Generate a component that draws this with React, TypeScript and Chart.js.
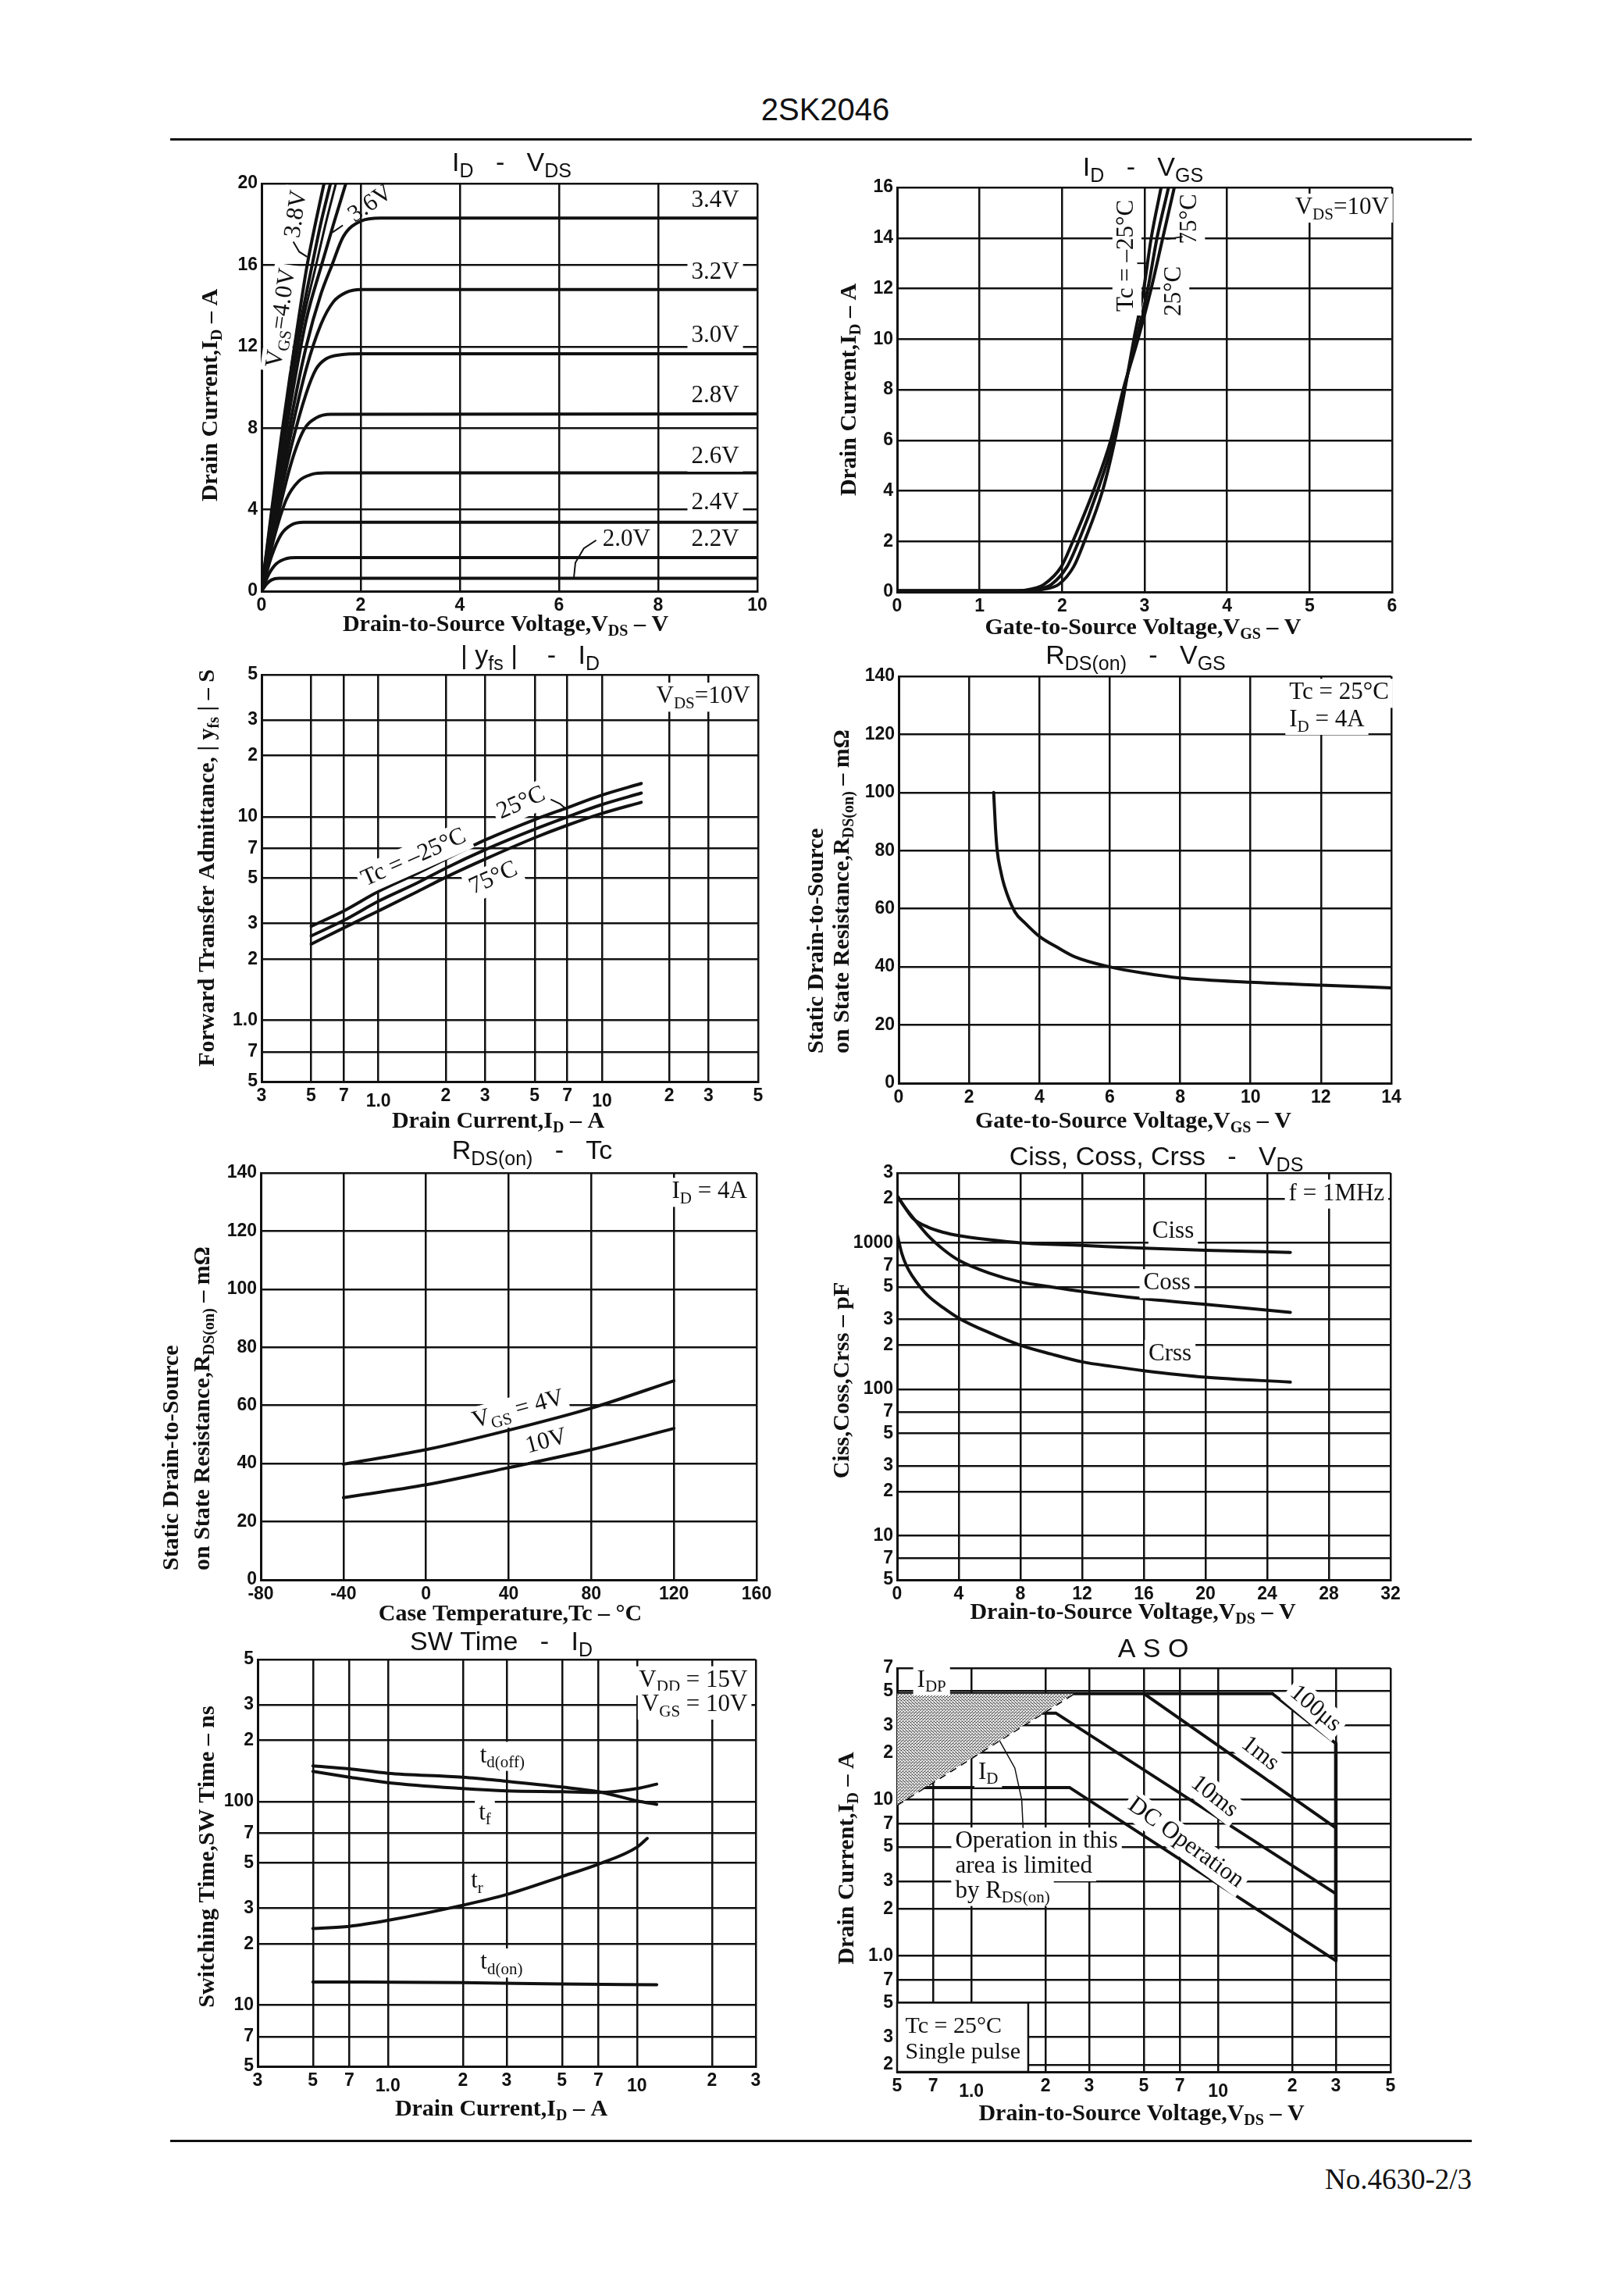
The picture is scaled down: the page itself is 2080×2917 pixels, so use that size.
import React, { useEffect, useRef } from 'react';
import { Chart, registerables } from 'chart.js';

Chart.register(...registerables);

type Pt = [number, number];

/* ================= 1. I_D – V_DS  (parameter V_GS) ================= */
const idVds_2_0V: Pt[] = [[0, 0], [0.1, 0.35], [0.2, 0.55], [0.35, 0.63], [10, 0.63]];
const idVds_2_2V: Pt[] = [[0, 0], [0.15, 0.85], [0.3, 1.35], [0.5, 1.6], [0.7, 1.65], [10, 1.65]];
const idVds_2_4V: Pt[] = [[0, 0], [0.2, 1.7], [0.4, 2.8], [0.6, 3.25], [0.85, 3.38], [10, 3.38]];
const idVds_2_6V: Pt[] = [[0, 0], [0.25, 2.6], [0.5, 4.5], [0.75, 5.4], [1.0, 5.72], [1.3, 5.8], [10, 5.8]];
const idVds_2_8V: Pt[] = [[0, 0], [0.3, 3.4], [0.6, 6.3], [0.85, 7.9], [1.1, 8.5], [1.4, 8.68], [10, 8.7]];
const idVds_3_0V: Pt[] = [[0, 0], [0.3, 3.8], [0.6, 7.1], [0.9, 9.7], [1.1, 10.9], [1.3, 11.4], [1.6, 11.6], [2.0, 11.65], [10, 11.65]];
const idVds_3_2V: Pt[] = [[0, 0], [0.3, 4.1], [0.6, 7.8], [0.9, 10.9], [1.2, 13.1], [1.45, 14.2], [1.7, 14.65], [2.0, 14.8], [10, 14.8]];
const idVds_3_4V: Pt[] = [[0, 0], [0.3, 4.4], [0.6, 8.5], [0.9, 12.0], [1.2, 14.6], [1.42, 16.0], [1.65, 17.4], [2.0, 18.15], [2.4, 18.3], [10, 18.3]];
const idVds_3_6V: Pt[] = [[0, 0], [0.2, 3.3], [0.4, 6.5], [0.6, 9.4], [0.9, 13.3], [1.21, 16], [1.45, 18.0], [1.7, 20]];
const idVds_3_7V: Pt[] = [[0, 0], [0.2, 3.5], [0.4, 6.9], [0.6, 10.0], [0.85, 13.4], [1.1, 16], [1.3, 18.1], [1.5, 20]];
const idVds_3_8V: Pt[] = [[0, 0], [0.2, 3.7], [0.4, 7.2], [0.6, 10.4], [0.8, 13.3], [1.02, 16], [1.2, 18.1], [1.39, 20]];
const idVds_4_0V: Pt[] = [[0, 0], [0.2, 3.9], [0.4, 7.6], [0.6, 11.0], [0.8, 14.2], [0.92, 16], [1.1, 18.2], [1.26, 20]];

/* ================= 2. I_D – V_GS  (parameter Tc) ================= */
const idVgs_m25C: Pt[] = [[0, 0.05], [1.55, 0.05], [1.8, 0.12], [1.96, 0.3], [2.14, 1], [2.27, 2], [2.49, 4], [2.64, 6], [2.76, 8], [2.87, 10], [2.99, 12], [3.08, 14], [3.2, 16]];
const idVgs_25C: Pt[] = [[0, 0.05], [1.5, 0.05], [1.72, 0.12], [1.87, 0.3], [2.06, 1], [2.2, 2], [2.43, 4], [2.62, 6], [2.75, 8], [2.9, 10], [3.04, 12], [3.15, 14], [3.29, 16]];
const idVgs_75C: Pt[] = [[0, 0.05], [1.45, 0.05], [1.63, 0.12], [1.78, 0.3], [1.99, 1], [2.13, 2], [2.38, 4], [2.59, 6], [2.74, 8], [2.92, 10], [3.08, 12], [3.22, 14], [3.36, 16]];

/* ================= 3. |yfs| – I_D ================= */
const yfs_m25C: Pt[] = [[0.5, 2.9], [0.7, 3.45], [1, 4.3], [1.5, 5.3], [2, 6.2], [3, 7.7], [5, 9.7], [7, 11.1], [10, 12.8], [15, 14.6]];
const yfs_25C: Pt[] = [[0.5, 2.6], [0.7, 3.1], [1, 3.85], [1.5, 4.75], [2, 5.6], [3, 6.9], [5, 8.7], [7, 10.0], [10, 11.5], [15, 13.1]];
const yfs_75C: Pt[] = [[0.5, 2.37], [0.7, 2.85], [1, 3.45], [1.5, 4.3], [2, 5.05], [3, 6.2], [5, 7.9], [7, 9.1], [10, 10.4], [15, 11.8]];
const logTicks_03_50 = [0.3, 0.5, 0.7, 1, 2, 3, 5, 7, 10, 20, 30, 50];
const logLabels_03_50 = ['3', '5', '7', '1.0', '2', '3', '5', '7', '10', '2', '3', '5'];
const logTicks_05_50 = [0.5, 0.7, 1, 2, 3, 5, 7, 10, 20, 30, 50];
const logLabels_05_50 = ['5', '7', '1.0', '2', '3', '5', '7', '10', '2', '3', '5'];

/* ================= 4. R_DS(on) – V_GS ================= */
const rdsVgs: Pt[] = [[2.7, 100], [2.75, 88], [2.8, 80], [2.9, 73], [3.0, 68], [3.3, 59], [3.6, 55], [4, 50.5], [4.5, 46.8], [5, 43.5], [6, 40], [7, 37.8], [8, 36.2], [10, 34.7], [12, 33.7], [14, 32.8]];

/* ================= 5. R_DS(on) – Tc ================= */
const rdsTc_4V: Pt[] = [[-40, 39.8], [0, 44.8], [40, 51.5], [80, 59.1], [120, 68.5]];
const rdsTc_10V: Pt[] = [[-40, 28.3], [0, 32.7], [40, 38.6], [80, 44.8], [120, 52.1]];

/* ================= 6. Ciss, Coss, Crss – V_DS ================= */
const ciss: Pt[] = [[0, 2100], [0.5, 1750], [1, 1480], [2, 1280], [3, 1180], [4, 1120], [6, 1050], [8, 1000], [12, 960], [16, 920], [20, 890], [25.5, 860]];
const coss: Pt[] = [[0, 2100], [0.5, 1750], [1, 1500], [2, 1120], [3, 900], [4, 760], [6, 620], [8, 540], [10, 500], [12, 466], [16, 415], [20, 380], [25.5, 335]];
const crss: Pt[] = [[0, 1150], [0.3, 850], [0.6, 700], [1, 590], [1.5, 500], [2, 436], [3, 360], [4, 306], [6, 243], [8, 200], [10, 174], [12, 154], [14, 143], [16, 134], [20, 121], [25.5, 112]];
const capTicks = [5, 7, 10, 20, 30, 50, 70, 100, 200, 300, 500, 700, 1000, 2000, 3000];
const capLabels = ['5', '7', '10', '2', '3', '5', '7', '100', '2', '3', '5', '7', '1000', '2', '3'];

/* ================= 7. SW Time – I_D ================= */
const swTdOff: Pt[] = [[0.5, 150], [0.7, 145], [1, 138], [2, 132], [3, 126], [5, 118], [7, 112], [10, 101], [12, 97]];
const swTf: Pt[] = [[0.5, 141], [0.7, 132], [1, 124], [2, 116], [3, 113], [5, 112], [7, 111], [10, 116], [12, 122]];
const swTr: Pt[] = [[0.5, 23.8], [0.7, 24.4], [1, 26.1], [2, 31], [3, 35], [5, 42.9], [7, 49.3], [10, 59.7], [11, 66]];
const swTdOn: Pt[] = [[0.5, 13.0], [2, 12.9], [5, 12.7], [12, 12.6]];
const swXTicks = [0.3, 0.5, 0.7, 1, 2, 3, 5, 7, 10, 20, 30];
const swXLabels = ['3', '5', '7', '1.0', '2', '3', '5', '7', '10', '2', '3'];
const swYTicks = [5, 7, 10, 20, 30, 50, 70, 100, 200, 300, 500];
const swYLabels = ['5', '7', '10', '2', '3', '5', '7', '100', '2', '3', '5'];

/* ================= 8. ASO ================= */
const asoIdp: Pt[] = [[0.5, 48], [16.6, 48]];
const aso100us: Pt[] = [[16.6, 48], [30, 23]];
const aso1ms: Pt[] = [[5, 48], [30, 6.6]];
const aso10ms: Pt[] = [[0.5, 36], [2.2, 36], [30, 2.5]];
const asoDC: Pt[] = [[0.5, 12], [2.5, 12], [30, 0.93]];
const asoVdss: Pt[] = [[30, 23], [30, 0.93]];
const asoRdsLimit: Pt[] = [[0.5, 9.3], [2.6, 48]];
const asoRdsRegion: Pt[] = [[0.5, 9.3], [2.6, 48], [0.5, 48], [0.5, 9.3]];
const asoYTicks = [0.2, 0.3, 0.5, 0.7, 1, 2, 3, 5, 7, 10, 20, 30, 50, 70];
const asoYLabels = ['2', '3', '5', '7', '1.0', '2', '3', '5', '7', '10', '2', '3', '5', '7'];

/* ================= styling ================= */
const INK = '#111';
const SERIF = "'Liberation Serif', 'DejaVu Serif', serif";
const SANS = "'Liberation Sans', 'DejaVu Sans', sans-serif";
const TICKF = "'Liberation Sans Narrow', 'Liberation Sans', sans-serif";
const GRID_W = 2.5;
const CURVE_W = 4;
const M = { l: 150, t: 70, r: 50, b: 90 };
const YW = 72;
const XH = 56;
const ANN_SIZE = 31;
const AXIS_TITLE_SIZE = 30;
const TITLE_SIZE = 34;

type Ann = {
  t?: string;
  d?: Pt;
  a?: [number, number, number, number];
  size?: number;
  fam?: 'serif' | 'title';
  bold?: boolean;
  align?: 'left' | 'center' | 'right';
  rot?: number;
  bg?: boolean;
  line?: Pt[];
  lw?: number;
  rect?: [number, number, number, number];
};

type AxisSpec = {
  type: 'linear' | 'logarithmic';
  min: number;
  max: number;
  step?: number;
  ticks?: number[];
  labels?: string[];
  low?: number[];
};

type ChartSpec = {
  rect: [number, number, number, number];
  x: AxisSpec;
  y: AxisSpec;
  datasets: any[];
  ann: Ann[];
};

function parseRich(s: string) {
  const out: { s: string; sub: boolean }[] = [];
  const re = /_\{([^}]*)\}/g;
  let last = 0;
  let m: RegExpExecArray | null;
  while ((m = re.exec(s))) {
    if (m.index > last) out.push({ s: s.slice(last, m.index), sub: false });
    out.push({ s: m[1], sub: true });
    last = re.lastIndex;
  }
  if (last < s.length) out.push({ s: s.slice(last), sub: false });
  return out;
}

function drawRich(ctx: CanvasRenderingContext2D, it: Ann, x: number, y: number) {
  const size = it.size ?? (it.fam === 'title' ? TITLE_SIZE : it.bold ? AXIS_TITLE_SIZE : ANN_SIZE);
  const fam = it.fam === 'title' ? SANS : SERIF;
  const weight = it.bold ? 'bold ' : '';
  const segs = parseRich(it.t || '');
  const subRatio = it.fam === 'title' ? 0.74 : 0.68;
  const fontFor = (sub: boolean) => `${weight}${sub ? Math.round(size * subRatio) : size}px ${fam}`;
  const widths: number[] = [];
  let w = 0;
  for (const sg of segs) {
    ctx.font = fontFor(sg.sub);
    const mw = ctx.measureText(sg.s).width;
    widths.push(mw);
    w += mw;
  }
  ctx.save();
  ctx.translate(x, y);
  if (it.rot) ctx.rotate((it.rot * Math.PI) / 180);
  let sx = it.align === 'left' ? 0 : it.align === 'right' ? -w : -w / 2;
  if (it.bg) {
    ctx.fillStyle = '#fff';
    ctx.fillRect(sx - 5, -size * 0.58, w + 10, size * 1.2);
  }
  ctx.fillStyle = INK;
  ctx.textBaseline = 'middle';
  ctx.textAlign = 'left';
  segs.forEach((sg, i) => {
    ctx.font = fontFor(sg.sub);
    ctx.fillText(sg.s, sx, sg.sub ? size * 0.3 : 0);
    sx += widths[i];
  });
  ctx.restore();
}

function annPlugin(items: Ann[]) {
  return {
    id: 'ann',
    afterDatasetsDraw(chart: any) {
      const ctx: CanvasRenderingContext2D = chart.ctx;
      const ca = chart.chartArea;
      const xs = chart.scales.x;
      const ys = chart.scales.y;
      const P = (p: Pt): Pt => [xs.getPixelForValue(p[0]), ys.getPixelForValue(p[1])];
      for (const it of items) {
        if (it.rect) {
          const a = P([it.rect[0], it.rect[1]]);
          const b = P([it.rect[2], it.rect[3]]);
          const x = Math.min(a[0], b[0]);
          const y = Math.min(a[1], b[1]);
          const w = Math.abs(a[0] - b[0]);
          const h = Math.abs(a[1] - b[1]);
          ctx.save();
          ctx.fillStyle = '#fff';
          ctx.fillRect(x, y, w, h);
          ctx.strokeStyle = INK;
          ctx.lineWidth = GRID_W;
          ctx.strokeRect(x, y, w, h);
          ctx.restore();
        }
        if (it.line) {
          ctx.save();
          ctx.strokeStyle = INK;
          ctx.lineWidth = it.lw ?? 2;
          ctx.beginPath();
          it.line.forEach((p, i) => {
            const q = P(p);
            if (i === 0) ctx.moveTo(q[0], q[1]);
            else ctx.lineTo(q[0], q[1]);
          });
          ctx.stroke();
          ctx.restore();
        }
        if (it.t) {
          let px: number;
          let py: number;
          if (it.d) {
            [px, py] = P(it.d);
          } else {
            const [fx, fy, dx, dy] = it.a || [0, 0, 0, 0];
            px = ca.left + fx * (ca.right - ca.left) + dx;
            py = ca.top + fy * (ca.bottom - ca.top) + dy;
          }
          drawRich(ctx, it, px, py);
        }
      }
    },
  };
}

function scaleOpts(s: AxisSpec, isX: boolean) {
  const low = new Set(s.low || []);
  const o: any = {
    type: s.type,
    min: s.min,
    max: s.max,
    position: isX ? 'bottom' : 'left',
    grid: { color: INK, lineWidth: GRID_W, drawTicks: false },
    border: { display: true, color: INK, width: 3 },
    ticks: {
      color: INK,
      autoSkip: false,
      maxRotation: 0,
      minRotation: 0,
      padding: isX ? 6 : 5,
      font: (c: any) => ({
        family: TICKF,
        size: 23,
        weight: 'bold',
        lineHeight: c && c.tick && low.has(c.tick.value) ? 0.58 : 1.1,
      }),
    },
    afterFit: (sc: any) => {
      if (isX) sc.height = XH;
      else sc.width = YW;
    },
  };
  if (s.step) o.ticks.stepSize = s.step;
  if (s.ticks) {
    const vals = s.ticks;
    const labs = s.labels || [];
    o.afterBuildTicks = (sc: any) => {
      sc.ticks = vals.map((v) => ({ value: v }));
    };
    o.ticks.callback = (_v: any, i: number) => (low.has(vals[i]) ? ['', labs[i]] : labs[i]);
  }
  return o;
}

const toXY = (pts: Pt[]) => pts.map(([x, y]) => ({ x, y }));

function curve(label: string, pts: Pt[], extra: any = {}) {
  return {
    label,
    data: toXY(pts),
    borderColor: INK,
    backgroundColor: INK,
    borderWidth: CURVE_W,
    pointRadius: 0,
    fill: false,
    tension: 0.4,
    cubicInterpolationMode: 'monotone',
    borderCapStyle: 'round',
    ...extra,
  };
}

function stipple(): CanvasPattern | string {
  const c = document.createElement('canvas');
  c.width = 4;
  c.height = 4;
  const g = c.getContext('2d');
  if (!g) return '#999';
  g.fillStyle = '#fff';
  g.fillRect(0, 0, 4, 4);
  g.fillStyle = '#222';
  g.fillRect(0, 0, 1, 1);
  g.fillRect(2, 1, 1, 1);
  g.fillRect(1, 2, 1, 1);
  g.fillRect(3, 3, 1, 1);
  g.fillStyle = '#777';
  g.fillRect(2, 3, 1, 1);
  g.fillRect(0, 2, 1, 1);
  return g.createPattern(c, 'repeat') || '#999';
}

const yTitle2a = 'Static Drain-to-Source';
const yTitle2b = 'on State Resistance,R_{DS(on)} – mΩ';

function specs(): ChartSpec[] {
  const straight = { tension: 0, cubicInterpolationMode: 'default' };
  return [
    {
      rect: [335, 235, 635, 522],
      x: { type: 'linear', min: 0, max: 10, step: 2 },
      y: { type: 'linear', min: 0, max: 20, step: 4 },
      datasets: [
        curve('VGS=2.0V', idVds_2_0V),
        curve('VGS=2.2V', idVds_2_2V),
        curve('VGS=2.4V', idVds_2_4V),
        curve('VGS=2.6V', idVds_2_6V),
        curve('VGS=2.8V', idVds_2_8V),
        curve('VGS=3.0V', idVds_3_0V),
        curve('VGS=3.2V', idVds_3_2V),
        curve('VGS=3.4V', idVds_3_4V),
        curve('VGS=3.6V', idVds_3_6V),
        curve('VGS=3.7V', idVds_3_7V, { borderWidth: 3 }),
        curve('VGS=3.8V', idVds_3_8V),
        curve('VGS=4.0V', idVds_4_0V),
      ],
      ann: [
        { t: 'I_{D}   -   V_{DS}', a: [0.5, 0, 3, -25], fam: 'title' },
        { t: 'Drain-to-Source Voltage,V_{DS} – V', a: [0.5, 1, -5, 43], bold: true },
        { t: 'Drain Current,I_{D} – A', a: [0, 0.5, -65, 10], bold: true, rot: -90 },
        { t: '3.4V', d: [9.15, 19.15], bg: true },
        { t: '3.2V', d: [9.15, 15.65], bg: true },
        { t: '3.0V', d: [9.15, 12.55], bg: true },
        { t: '2.8V', d: [9.15, 9.6], bg: true },
        { t: '2.6V', d: [9.15, 6.6], bg: true },
        { t: '2.4V', d: [9.15, 4.35], bg: true },
        { t: '2.2V', d: [9.15, 2.55], bg: true },
        { t: '2.0V', d: [7.36, 2.55], bg: true },
        { line: [[6.3, 0.68], [6.33, 1.4], [6.5, 2.1], [6.75, 2.5]], lw: 2 },
        { t: 'V_{GS}=4.0V', d: [0.4, 13.4], rot: -82, bg: true },
        { t: '3.8V', d: [0.7, 18.5], rot: -82, bg: true },
        { line: [[0.64, 17.15], [0.76, 16.65], [0.92, 16.4]], lw: 2 },
        { t: '3.6V', d: [2.2, 19.0], rot: -35 },
        { line: [[1.64, 17.95], [1.43, 17.6]], lw: 2 },
      ],
    },
    {
      rect: [1149, 240, 634, 518],
      x: { type: 'linear', min: 0, max: 6, step: 1 },
      y: { type: 'linear', min: 0, max: 16, step: 2 },
      datasets: [
        curve('Tc=-25°C', idVgs_m25C),
        curve('Tc=25°C', idVgs_25C),
        curve('Tc=75°C', idVgs_75C),
      ],
      ann: [
        { t: 'I_{D}   -   V_{GS}', a: [0.5, 0, -2, -24], fam: 'title' },
        { t: 'Gate-to-Source Voltage,V_{GS} – V', a: [0.5, 1, -2, 46], bold: true },
        { t: 'Drain Current,I_{D} – A', a: [0, 0.5, -61, 0], bold: true, rot: -90 },
        { t: 'V_{DS}=10V', d: [5.96, 15.2], align: 'right', bg: true },
        { t: 'Tc = –25°C', d: [2.78, 13.3], rot: -90, bg: true },
        { t: '25°C', d: [3.36, 11.9], rot: -90, bg: true },
        { t: '75°C', d: [3.55, 14.75], rot: -90, bg: true },
        { line: [[3.46, 14.05], [3.26, 13.95]], lw: 2 },
        { line: [[2.91, 13.0], [3.04, 13.0]], lw: 2 },
      ],
    },
    {
      rect: [335, 864, 636, 521],
      x: { type: 'logarithmic', min: 0.3, max: 50, ticks: logTicks_03_50, labels: logLabels_03_50, low: [1, 10] },
      y: { type: 'logarithmic', min: 0.5, max: 50, ticks: logTicks_05_50, labels: logLabels_05_50 },
      datasets: [
        curve('Tc=-25°C', yfs_m25C),
        curve('Tc=25°C', yfs_25C),
        curve('Tc=75°C', yfs_75C),
      ],
      ann: [
        { t: '| y_{fs} |    -   I_{D}', a: [0.5, 0, 26, -23], fam: 'title' },
        { t: 'Drain Current,I_{D} – A', a: [0.5, 1, -15, 51], bold: true },
        { t: 'Forward Transfer Admittance, | y_{fs} | – S', a: [0, 0.5, -69, -13], bold: true, rot: -90 },
        { t: 'V_{DS}=10V', d: [46, 39], align: 'right', bg: true },
        { t: 'Tc = –25°C', d: [1.44, 6.3], rot: -24, bg: true },
        { t: '25°C', d: [4.35, 11.7], rot: -24, bg: true },
        { t: '75°C', d: [3.27, 5.0], rot: -24, bg: true },
        { line: [[5.9, 12.2], [6.5, 11.6], [7.0, 10.8]], lw: 2 },
      ],
    },
    {
      rect: [1151, 866, 631, 521],
      x: { type: 'linear', min: 0, max: 14, step: 2 },
      y: { type: 'linear', min: 0, max: 140, step: 20 },
      datasets: [curve('RDS(on)', rdsVgs)],
      ann: [
        { t: 'R_{DS(on)}   -   V_{GS}', a: [0.5, 0, -12, -25], fam: 'title' },
        { t: 'Gate-to-Source Voltage,V_{GS} – V', a: [0.5, 1, -15, 49], bold: true },
        { t: yTitle2a, a: [0, 1, -105, -38], bold: true, rot: -90, align: 'left' },
        { t: yTitle2b, a: [0, 1, -72, -38], bold: true, rot: -90, align: 'left' },
        { t: 'Tc = 25°C', d: [11.1, 134.3], align: 'left', bg: true },
        { t: 'I_{D} = 4A', d: [11.1, 125], align: 'left', bg: true },
      ],
    },
    {
      rect: [334, 1502, 635, 521],
      x: { type: 'linear', min: -80, max: 160, step: 40 },
      y: { type: 'linear', min: 0, max: 140, step: 20 },
      datasets: [curve('VGS=4V', rdsTc_4V), curve('VGS=10V', rdsTc_10V)],
      ann: [
        { t: 'R_{DS(on)}   -   Tc', a: [0.5, 0, 30, -27], fam: 'title' },
        { t: 'Case Temperature,Tc – °C', a: [0.5, 1, 2, 44], bold: true },
        { t: yTitle2a, a: [0, 1, -114, -12], bold: true, rot: -90, align: 'left' },
        { t: yTitle2b, a: [0, 1, -74, -12], bold: true, rot: -90, align: 'left' },
        { t: 'I_{D} = 4A', d: [119, 133.5], align: 'left', bg: true },
        { t: 'V_{GS} = 4V', d: [44.6, 58.6], rot: -15, bg: true },
        { t: '10V', d: [58.2, 47.6], rot: -15, bg: true },
      ],
    },
    {
      rect: [1149, 1502, 632, 521],
      x: { type: 'linear', min: 0, max: 32, step: 4 },
      y: { type: 'logarithmic', min: 5, max: 3000, ticks: capTicks, labels: capLabels },
      datasets: [curve('Ciss', ciss), curve('Coss', coss), curve('Crss', crss)],
      ann: [
        { t: 'Ciss, Coss, Crss   -   V_{DS}', a: [0.5, 0, 16, -19], fam: 'title' },
        { t: 'Drain-to-Source Voltage,V_{DS} – V', a: [0.5, 1, -14, 42], bold: true },
        { t: 'Ciss,Coss,Crss – pF', a: [0, 0.5, -70, 5], bold: true, rot: -90 },
        { t: 'f = 1MHz', d: [31.6, 2170], align: 'right', bg: true },
        { t: 'Ciss', d: [17.9, 1200], bg: true },
        { t: 'Coss', d: [17.5, 530], bg: true },
        { t: 'Crss', d: [17.7, 174], bg: true },
      ],
    },
    {
      rect: [330, 2125, 638, 521],
      x: { type: 'logarithmic', min: 0.3, max: 30, ticks: swXTicks, labels: swXLabels, low: [1, 10] },
      y: { type: 'logarithmic', min: 5, max: 500, ticks: swYTicks, labels: swYLabels },
      datasets: [
        curve('td(off)', swTdOff),
        curve('tf', swTf),
        curve('tr', swTr),
        curve('td(on)', swTdOn),
      ],
      ann: [
        { t: 'SW Time   -   I_{D}', a: [0.5, 0, -7, -21], fam: 'title' },
        { t: 'Drain Current,I_{D} – A', a: [0.5, 1, -7, 55], bold: true },
        { t: 'Switching Time,SW Time – ns', a: [0, 0.5, -64, -8], bold: true, rot: -90 },
        { t: 'V_{DD} = 15V', d: [27.8, 395], align: 'right', bg: true },
        { t: 'V_{GS} = 10V', d: [27.8, 300], align: 'right', bg: true },
        { t: 't_{d(off)}', d: [2.88, 168], bg: true },
        { t: 't_{f}', d: [2.45, 88], bg: true },
        { t: 't_{r}', d: [2.28, 40.5], bg: true },
        { t: 't_{d(on)}', d: [2.86, 16.2], bg: true },
      ],
    },
    {
      rect: [1149, 2136, 632, 517],
      x: { type: 'logarithmic', min: 0.5, max: 50, ticks: logTicks_05_50, labels: logLabels_05_50, low: [1, 10] },
      y: { type: 'logarithmic', min: 0.18, max: 70, ticks: asoYTicks, labels: asoYLabels },
      datasets: [
        {
          label: 'RDS(on) limited area',
          data: toXY(asoRdsRegion),
          borderWidth: 0,
          pointRadius: 0,
          tension: 0,
          fill: 'shape',
          backgroundColor: stipple(),
          borderColor: 'rgba(0,0,0,0)',
        },
        curve('IDP', asoIdp, straight),
        curve('100μs', aso100us, straight),
        curve('1ms', aso1ms, straight),
        curve('10ms', aso10ms, straight),
        curve('DC operation', asoDC, straight),
        curve('VDSS', asoVdss, { ...straight, borderWidth: 4.5 }),
        curve('RDS(on) limit', asoRdsLimit, { ...straight, borderWidth: 3, borderDash: [9, 7], borderCapStyle: 'butt' }),
      ],
      ann: [
        { t: 'A S O', a: [0.5, 0, 12, -23], fam: 'title' },
        { t: 'Drain-to-Source Voltage,V_{DS} – V', a: [0.5, 1, -3, 54], bold: true },
        { t: 'Drain Current,I_{D} – A', a: [0, 0.5, -64, -15], bold: true, rot: -90 },
        { t: 'I_{DP}', d: [0.69, 58.5], bg: true },
        { t: 'I_{D}', d: [1.17, 15], bg: true },
        { t: 'Operation in this', d: [0.86, 5.4], align: 'left', bg: true },
        { t: 'area is limited', d: [0.86, 3.75], align: 'left', bg: true },
        { t: 'by R_{DS(on)}', d: [0.86, 2.6], align: 'left', bg: true },
        { line: [[1.62, 6.6], [1.6, 10], [1.5, 16], [1.3, 24]], lw: 1.5 },
        { rect: [0.5, 0.18, 1.7, 0.5] },
        { t: 'Tc = 25°C', d: [0.54, 0.35], align: 'left', size: 30 },
        { t: 'Single pulse', d: [0.54, 0.24], align: 'left', size: 30 },
        { t: '100μs', d: [24.8, 38.5], rot: 40, bg: true },
        { t: '1ms', d: [14.8, 19.8], rot: 38, bg: true },
        { t: '10ms', d: [9.66, 10.5], rot: 38, bg: true },
        { t: 'DC Operation', d: [7.4, 5.3], rot: 36, bg: true },
      ],
    },
  ];
}

function buildChart(canvas: HTMLCanvasElement, spec: ChartSpec) {
  return new Chart(canvas, {
    type: 'line',
    data: { datasets: spec.datasets },
    options: {
      responsive: false,
      animation: false,
      devicePixelRatio: 1,
      events: [],
      layout: { padding: { left: M.l - YW, right: M.r, top: M.t, bottom: M.b - XH } },
      plugins: { legend: { display: false }, tooltip: { enabled: false }, title: { display: false } },
      scales: { x: scaleOpts(spec.x, true), y: scaleOpts(spec.y, false) },
    } as any,
    plugins: [annPlugin(spec.ann) as any],
  });
}

const RECTS: [number, number, number, number][] = [
  [335, 235, 635, 522],
  [1149, 240, 634, 518],
  [335, 864, 636, 521],
  [1151, 866, 631, 521],
  [334, 1502, 635, 521],
  [1149, 1502, 632, 521],
  [330, 2125, 638, 521],
  [1149, 2136, 632, 517],
];

function ChartBox({ index }: { index: number }) {
  const ref = useRef<HTMLCanvasElement>(null);
  const r = RECTS[index];
  useEffect(() => {
    if (!ref.current) return;
    const spec = specs()[index];
    const c = buildChart(ref.current, spec);
    return () => c.destroy();
  }, [index]);
  const w = r[2] + M.l + M.r;
  const h = r[3] + M.t + M.b;
  return (
    <canvas
      ref={ref}
      width={w}
      height={h}
      style={{ position: 'absolute', left: r[0] - M.l, top: r[1] - M.t, width: w, height: h }}
    />
  );
}

export default function App() {
  return (
    <div style={{ position: 'absolute', left: 0, top: 0, width: 2080, height: 2917, background: '#fff', overflow: 'hidden' }}>
      <div
        style={{
          position: 'absolute', left: 757, top: 116, width: 600, textAlign: 'center',
          fontFamily: SANS, fontSize: 40, lineHeight: '48px', color: INK,
        }}
      >
        2SK2046
      </div>
      <div style={{ position: 'absolute', left: 218, top: 177, width: 1667, height: 3, background: INK }} />
      {RECTS.map((_, i) => (
        <ChartBox key={i} index={i} />
      ))}
      <div style={{ position: 'absolute', left: 218, top: 2740, width: 1667, height: 3, background: INK }} />
      <div
        style={{
          position: 'absolute', left: 1385, top: 2768, width: 500, textAlign: 'right',
          fontFamily: SERIF, fontSize: 37, lineHeight: '46px', color: INK,
        }}
      >
        No.4630-2/3
      </div>
    </div>
  );
}
